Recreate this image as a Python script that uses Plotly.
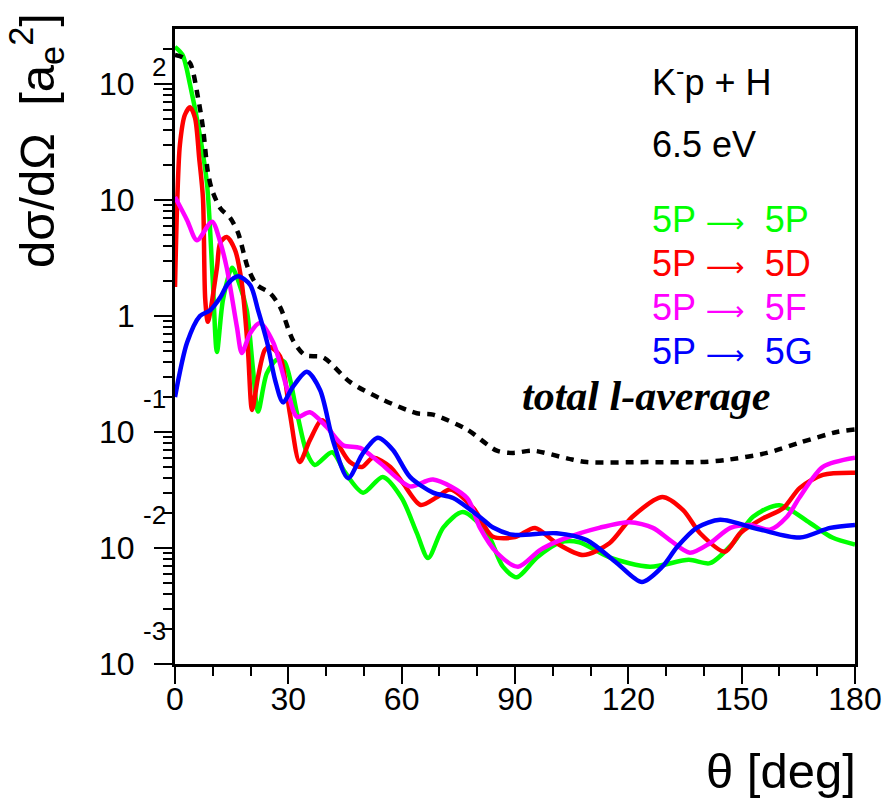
import math
import plotly.graph_objects as go

# ---------------- data ----------------
theta_pp = [0, 2, 4, 6.6, 8.5, 10, 11.1, 12.7, 15.1, 17, 19, 20.6, 22, 24.3, 27, 29, 32.3, 34.9, 37, 41.6,
            45, 49.8, 55, 60, 64, 67, 71, 76.2, 82.6, 86.8, 90.5, 95.8, 102, 107, 115, 125.7, 136, 141.6,
            147.7, 153, 160, 168, 174, 180]
xs_pp = [209, 178, 98, 36, 13.5, 2.0, 0.49, 1.38, 2.6, 1.9, 1.12, 0.36, 0.15, 0.32, 0.42, 0.40, 0.145, 0.066,
         0.052, 0.067, 0.045, 0.030, 0.041, 0.027, 0.0135, 0.0082, 0.015, 0.0204, 0.0135, 0.0069, 0.0056,
         0.0083, 0.0112, 0.0112, 0.0083, 0.0069, 0.0079, 0.0074, 0.011, 0.0186, 0.0234, 0.0165, 0.0123, 0.0107]

theta_pd = [0, 0.6, 1.3, 2.6, 4, 5.3, 6.4, 7.4, 8.0, 8.7, 11.1, 12, 13.7, 15.9, 17.7, 19.3, 20.4, 22, 23.8,
            25.1, 27.8, 30.4, 33, 35.7, 38.9, 42.9, 46.3, 49.5, 52.4, 57, 60.4, 65, 69.4, 72.8, 79, 84, 90,
            95.3, 101, 108, 115, 121, 129, 134.5, 139, 145.6, 149.6, 155.6, 161, 165.4, 171.5, 180]
xs_pd = [1.78, 10, 30, 54, 63, 51, 23, 10.4, 1.4, 0.89, 2.6, 4.3, 4.8, 3.7, 1.9, 0.51, 0.155, 0.30, 0.51,
         0.54, 0.45, 0.145, 0.055, 0.085, 0.126, 0.081, 0.055, 0.050, 0.060, 0.050, 0.036, 0.0235, 0.0275,
         0.032, 0.022, 0.0126, 0.0124, 0.0149, 0.011, 0.0087, 0.011, 0.0185, 0.0275, 0.0212, 0.0134,
         0.0093, 0.0134, 0.018, 0.022, 0.033, 0.0427, 0.0445]

theta_pf = [0, 3.2, 5.8, 9.8, 12, 13.7, 16.4, 17.7, 19.9, 22.5, 26, 29.6, 32.3, 35.7, 40.2, 44.5, 49, 54.3,
            62.2, 68.3, 77.3, 80.7, 85.2, 90.8, 96.6, 102, 112.5, 120.4, 126.5, 131, 136.3, 141.6, 147,
            152.2, 157.5, 162, 165.4, 171.5, 180]
xs_pf = [10.6, 6.7, 4.5, 6.5, 4.3, 2.6, 0.8, 0.48, 0.71, 0.87, 0.59, 0.24, 0.135, 0.148, 0.11, 0.077, 0.073,
         0.054, 0.034, 0.039, 0.027, 0.015, 0.0091, 0.0069, 0.0096, 0.0117, 0.015, 0.0167, 0.0149, 0.0117,
         0.0091, 0.011, 0.0149, 0.0158, 0.0144, 0.0186, 0.0275, 0.050, 0.060]

theta_pg = [0, 3.2, 6.6, 9.3, 12, 14, 16.7, 19.9, 22, 24.4, 26.5, 28.6, 31.2, 34.9, 38.4, 41.8, 45.8, 49.8,
            53.7, 57.7, 62.2, 68.3, 73.6, 80.7, 84.2, 89.5, 101, 109, 117, 123.6, 129, 132.9, 138.2, 144.3,
            154.9, 165.4, 173.4, 180]
xs_pg = [0.2, 0.59, 1.0, 1.12, 1.45, 1.9, 2.2, 1.85, 1.12, 0.59, 0.28, 0.18, 0.245, 0.33, 0.23, 0.085, 0.040,
         0.066, 0.089, 0.070, 0.041, 0.030, 0.027, 0.0185, 0.015, 0.013, 0.0134, 0.0117, 0.0074, 0.0051,
         0.0069, 0.0102, 0.015, 0.0175, 0.0144, 0.0123, 0.0149, 0.0158]

theta_tot = [0, 2, 4, 6.1, 7.4, 8.7, 9.8, 12, 14.6, 16.7, 19.3, 21.7, 25.1, 27.8, 31.2, 34.4, 39.2, 46.3, 55,
             64, 68.3, 77.3, 85.2, 89.5, 94.8, 104, 109, 125, 139, 146, 156.7, 165.4, 175.2, 180]
xs_tot = [178, 170, 151, 76, 42, 17.4, 12.2, 8.5, 7.0, 5.2, 2.6, 1.85, 1.58, 1.2, 0.62, 0.46, 0.44, 0.27, 0.19,
          0.145, 0.141, 0.105, 0.069, 0.066, 0.069, 0.059, 0.055, 0.055, 0.055, 0.0575, 0.066, 0.081, 0.10,
          0.105]

series_initial = ["5P", "5P", "5P", "5P"]
series_final = ["5P", "5D", "5F", "5G"]
series_colors = ["#00ff00", "#ff0000", "#ff00ff", "#0000ff"]

x_ticks = [0, 30, 60, 90, 120, 150, 180]
y_ticks = [1e-3, 1e-2, 1e-1, 1, 10, 100]
y_tick_base = ["10", "10", "10", "1", "10", "10"]
y_tick_exp = ["-3", "-2", "-1", "", "", "2"]

# ---------------- figure ----------------
W, H = 888, 800
L, R, T, B = 175, 855, 29, 664


def pxx(p):
    return (p - L) / (R - L)


def pxy(p):
    return (B - p) / (B - T)


fig = go.Figure()
for th, v, a, b, col in zip([theta_pp, theta_pd, theta_pf, theta_pg],
                            [xs_pp, xs_pd, xs_pf, xs_pg], series_initial, series_final, series_colors):
    fig.add_trace(go.Scatter(x=th, y=v, mode="lines", name=f"{a} \u2192 {b}",
                             line=dict(color=col, width=4.5, shape="spline", smoothing=0.8)))
fig.add_trace(go.Scatter(x=theta_tot, y=xs_tot, mode="lines", name="total l-average",
                         line=dict(color="black", width=4.5, dash="8px,7px", shape="spline", smoothing=0.8)))

minor_y = [m * 10.0 ** e for e in range(-3, 3) for m in range(2, 10) if m * 10.0 ** e < 300]

fig.update_layout(
    width=W, height=H,
    margin=dict(l=L, r=W - R, t=T, b=H - B, autoexpand=False),
    paper_bgcolor="white", plot_bgcolor="white",
    showlegend=False,
    font=dict(family="Liberation Sans, Arial, sans-serif", color="black"),
    xaxis=dict(range=[0, 180], tickmode="array", tickvals=x_ticks, automargin=False,
               ticks="outside", ticklen=17, tickwidth=2, tickcolor="black",
               ticklabelstandoff=-12,
               minor=dict(tickmode="array", tickvals=[v for v in range(10, 180, 10) if v % 30],
                          ticks="outside", ticklen=9, tickwidth=2, tickcolor="black"),
               showline=True, linewidth=3, linecolor="black", mirror=True,
               showgrid=False, zeroline=False,
               tickfont=dict(family="Liberation Sans, Arial", size=32)),
    yaxis=dict(type="log", range=[-3, 2.474], tickmode="array", tickvals=y_ticks,
               showticklabels=False, automargin=False,
               ticks="outside", ticklen=18, tickwidth=2, tickcolor="black",
               minor=dict(tickmode="array", tickvals=minor_y,
                          ticks="outside", ticklen=9, tickwidth=2, tickcolor="black"),
               showline=True, linewidth=3, linecolor="black", mirror=True,
               showgrid=False, zeroline=False),
)

ann = []
# y tick labels in ROOT style (base + separated exponent)
for v, b, e in zip(y_ticks, y_tick_base, y_tick_exp):
    ly = math.log10(v)
    ann.append(dict(x=pxx(137), y=ly, xref="paper", yref="y", text=b, showarrow=False,
                    xanchor="right", yanchor="middle", font=dict(size=32)))
    if e:
        ann.append(dict(x=pxx(168), y=ly, xref="paper", yref="y", text=e, showarrow=False,
                        xanchor="right", yanchor="middle", yshift=(17 if not e.startswith("-") else 33),
                        font=dict(size=26)))

# axis titles
ann.append(dict(x=pxx(858), y=pxy(771), xref="paper", yref="paper", text="\u03b8 [deg]", showarrow=False,
                xanchor="right", yanchor="middle", font=dict(size=49)))
ann.append(dict(x=pxx(36), y=pxy(141), xref="paper", yref="paper",
                text="d\u03c3/d\u03a9\u00a0\u00a0[a<sub>e</sub><sup>2</sup>]", textangle=-90, showarrow=False,
                xanchor="center", yanchor="middle", font=dict(size=49)))

# labels
ann.append(dict(x=pxx(650), y=pxy(80), xref="paper", yref="paper", text="K<sup>-</sup>p + H",
                showarrow=False, xanchor="left", yanchor="middle", font=dict(size=36)))
ann.append(dict(x=pxx(650), y=pxy(144), xref="paper", yref="paper", text="6.5 eV",
                showarrow=False, xanchor="left", yanchor="middle", font=dict(size=36)))
for i, (a, b, col) in enumerate(zip(series_initial, series_final, series_colors)):
    yy = pxy(219 + 44 * i)
    txt = (a + "\u00a0<span style=\"font-family:'DejaVu Sans';font-size:27px\">\u27f6</span>"
           + "\u00a0\u00a0" + b)
    ann.append(dict(x=pxx(650), y=yy, xref="paper", yref="paper", text=txt,
                    showarrow=False, xanchor="left", yanchor="middle", font=dict(size=36, color=col)))
ann.append(dict(x=pxx(646), y=pxy(396), xref="paper", yref="paper", text="<b><i>total l-average</i></b>",
                showarrow=False, xanchor="center", yanchor="middle",
                font=dict(size=42, family="Liberation Serif, Times New Roman, serif")))

fig.update_layout(annotations=ann)
fig.write_html("out.html")
